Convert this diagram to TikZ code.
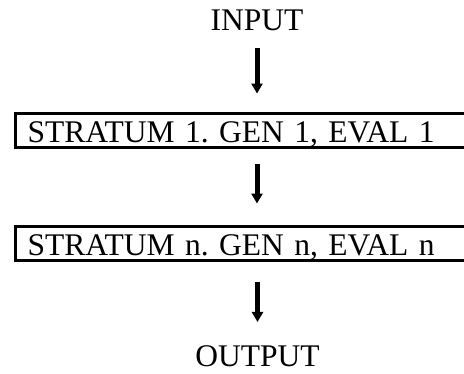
\documentclass[tikz,border=0pt]{standalone}
\usepackage{fontspec}
\setmainfont{Liberation Serif}
\usetikzlibrary{arrows.meta}
\frenchspacing
\begin{document}
\begin{tikzpicture}[x=1bp,y=-1bp,
  lbl/.style={inner sep=0pt, font=\fontsize{31.5bp}{38bp}\selectfont},
  stratbox/.style={draw, line width=3bp, anchor=west, minimum height=34bp,
    inner xsep=12.5bp, inner ysep=0pt, text width=435bp, align=left,
    text height=23bp, text depth=0bp, font=\fontsize{31.5bp}{38bp}\selectfont\frenchspacing},
  arr/.style={line width=5bp, -{Triangle[width=11bp,length=10bp]}}]
\useasboundingbox (0,0) rectangle (464,373);
\clip (0,0) rectangle (464,373);
\node[lbl, anchor=base] (in) at (257,30) {INPUT};
\node[stratbox] (s1) at (13.5,130.5) {STRATUM 1. GEN 1, EVAL 1};
\node[stratbox] (s2) at (13.5,243.5) {STRATUM n. GEN n, EVAL n};
\node[lbl, anchor=base] (out) at (257.5,366) {OUTPUT};
\draw[arr, shorten <=17bp, shorten >=18.5bp] (in.south) -- (in.south |- s1.north);
\draw[arr, shorten <=14.5bp, shorten >=21.5bp] (s1.south -| in.south) -- (s2.north -| in.south);
\draw[arr, shorten <=19.5bp, shorten >=23bp] (s2.south -| out.north) -- (out.north);
\end{tikzpicture}
\end{document}
